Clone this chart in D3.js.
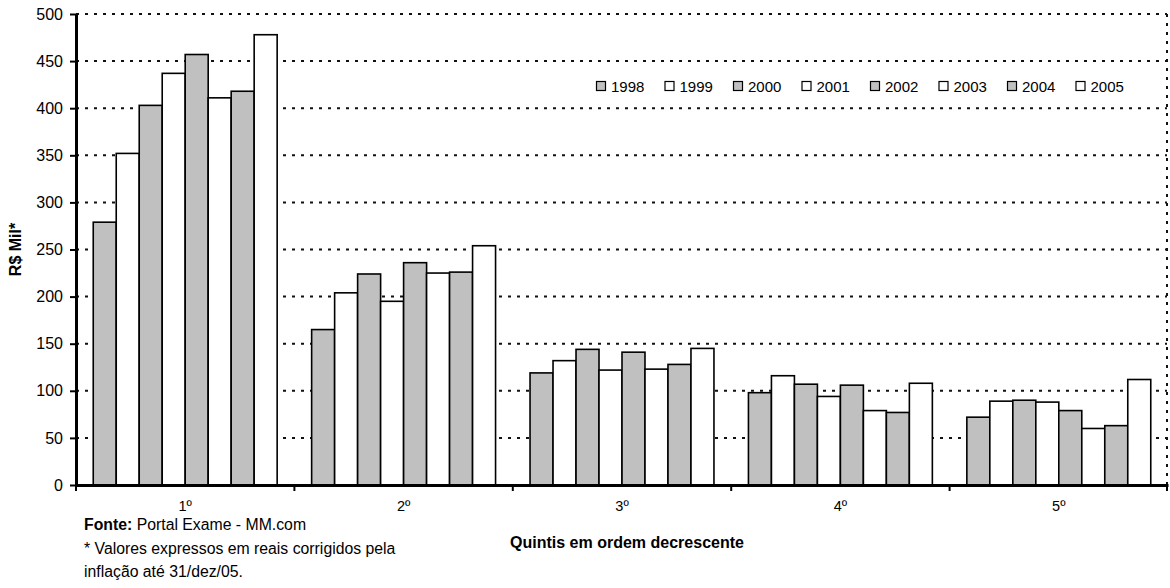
<!DOCTYPE html>
<html>
<head>
<meta charset="utf-8">
<script src="https://cdn.jsdelivr.net/npm/d3@7/dist/d3.min.js"></script>
<style>
  html, body { margin: 0; padding: 0; background: #fff; }
  svg { display: block; font-family: Arial, "Liberation Sans", sans-serif; }
</style>
</head>
<body>
<svg id="chart" width="1170" height="588"></svg>
<script>
// Quintis (categorias do eixo X)
const quintis = ["1º", "2º", "3º", "4º", "5º"];
// Anos (séries)
const anos = ["1998", "1999", "2000", "2001", "2002", "2003", "2004", "2005"];
// Renda média por quintil, R$ mil, uma lista por ano
const v1998 = [279, 165, 119, 98, 72];
const v1999 = [352, 204, 132, 116, 89];
const v2000 = [403, 224, 144, 107, 90];
const v2001 = [437, 195, 122, 94, 88];
const v2002 = [457, 236, 141, 106, 79];
const v2003 = [411, 225, 123, 79, 60];
const v2004 = [418, 226, 128, 77, 63];
const v2005 = [478, 254, 145, 108, 112];
const series = [v1998, v1999, v2000, v2001, v2002, v2003, v2004, v2005];
// Ticks do eixo Y
const yTicks = [0, 50, 100, 150, 200, 250, 300, 350, 400, 450, 500];

const FONT = "Arial, 'Liberation Sans', sans-serif";
const svg = d3.select("#chart");
const plot = { left: 76, right: 1168, top: 14, bottom: 485 };

const x0 = d3.scaleBand().domain(quintis).range([plot.left, plot.right]).padding(0);
const x1 = d3.scaleBand().domain(anos).range([0, x0.bandwidth()])
  .paddingInner(0).paddingOuter(0.75);
const y = d3.scaleLinear().domain([0, 500]).range([plot.bottom, plot.top]);

const fillFor = (i) => (i % 2 === 0 ? "#c0c0c0" : "#ffffff");

// Linhas de grade pontilhadas
svg.append("g").selectAll("line")
  .data(yTicks.filter(d => d > 0))
  .join("line")
  .attr("x1", plot.left).attr("x2", plot.right - 1)
  .attr("y1", d => y(d)).attr("y2", d => y(d))
  .attr("stroke", "#111").attr("stroke-width", 2)
  .attr("stroke-dasharray", "3,6");

// Borda direita pontilhada
svg.append("line")
  .attr("x1", plot.right - 1).attr("x2", plot.right - 1)
  .attr("y1", plot.top).attr("y2", plot.bottom)
  .attr("stroke", "#111").attr("stroke-width", 2)
  .attr("stroke-dasharray", "3,6");

// Barras
const rows = [];
quintis.forEach((q, qi) => {
  anos.forEach((a, ai) => rows.push({ q, a, ai, v: series[ai][qi] }));
});
svg.append("g").selectAll("rect")
  .data(rows)
  .join("rect")
  .attr("x", d => x0(d.q) + x1(d.a))
  .attr("y", d => y(d.v))
  .attr("width", x1.bandwidth())
  .attr("height", d => y(0) - y(d.v))
  .attr("fill", d => fillFor(d.ai))
  .attr("stroke", "#000").attr("stroke-width", 1.6);

// Eixo Y
const yAxis = svg.append("g")
  .attr("transform", `translate(${plot.left},0)`)
  .call(d3.axisLeft(y).tickValues(yTicks).tickSize(6).tickPadding(7).tickSizeOuter(0));
yAxis.select(".domain").attr("stroke", "#000").attr("stroke-width", 3);
yAxis.selectAll(".tick line").attr("stroke", "#000").attr("stroke-width", 2);
yAxis.selectAll(".tick text").attr("font-size", 16).attr("fill", "#000")
  .attr("font-family", FONT);

// Eixo X
const xAxis = svg.append("g")
  .attr("transform", `translate(0,${plot.bottom})`)
  .call(d3.axisBottom(x0).tickSize(0).tickPadding(16).tickSizeOuter(0));
xAxis.select(".domain").attr("stroke", "#000").attr("stroke-width", 3);
xAxis.selectAll(".tick text").attr("font-size", 14.5).attr("fill", "#000")
  .attr("font-family", FONT);
// Marcas entre categorias
const bounds = quintis.map(q => x0(q)).concat([plot.right]);
svg.append("g").selectAll("line")
  .data(bounds)
  .join("line")
  .attr("x1", d => Math.min(d, plot.right - 1)).attr("x2", d => Math.min(d, plot.right - 1))
  .attr("y1", plot.bottom).attr("y2", plot.bottom + 6)
  .attr("stroke", "#000").attr("stroke-width", 2);

// Título do eixo Y
svg.append("text")
  .attr("transform", `translate(21,${(plot.top + plot.bottom) / 2}) rotate(-90)`)
  .attr("text-anchor", "middle")
  .attr("font-size", 16).attr("font-weight", "bold")
  .text("R$ Mil*");

// Título do eixo X
svg.append("text")
  .attr("x", 627).attr("y", 548)
  .attr("text-anchor", "middle")
  .attr("font-size", 16).attr("font-weight", "bold")
  .text("Quintis em ordem decrescente");

// Fonte e nota
const note = svg.append("g").attr("font-size", 15.8);
const fonte = note.append("text").attr("x", 84).attr("y", 530);
fonte.append("tspan").attr("font-weight", "bold").text("Fonte:");
fonte.append("tspan").text(" Portal Exame - MM.com");
note.append("text").attr("x", 84).attr("y", 554)
  .text("* Valores expressos em reais corrigidos pela");
note.append("text").attr("x", 84).attr("y", 577)
  .text("inflação até 31/dez/05.");

// Legenda
const legend = svg.append("g").attr("transform", "translate(596,86)");
const item = legend.selectAll("g")
  .data(anos)
  .join("g")
  .attr("transform", (d, i) => `translate(${i * 68.5},0)`);
item.append("rect")
  .attr("x", 0.5).attr("y", -4.5).attr("width", 9).attr("height", 9)
  .attr("fill", (d, i) => fillFor(i))
  .attr("stroke", "#000").attr("stroke-width", 1.2);
item.append("text")
  .attr("x", 15).attr("y", 5.5)
  .attr("font-size", 15)
  .text(d => d);
</script>
</body>
</html>
